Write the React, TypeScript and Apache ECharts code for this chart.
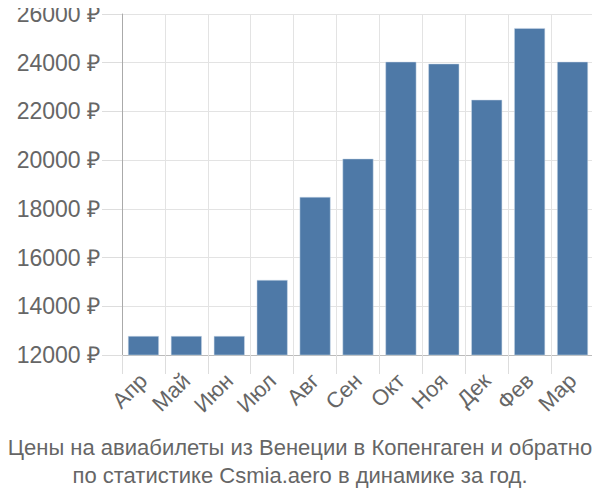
import React, { useEffect, useRef } from "react";
import * as echarts from "echarts";

const months = ["Апр", "Май", "Июн", "Июл", "Авг", "Сен", "Окт", "Ноя", "Дек", "Фев", "Мар"];
const prices = [12780, 12780, 12780, 15080, 18490, 20060, 24040, 23960, 22480, 25420, 24040];
const titleLines = [
  "Цены на авиабилеты из Венеции в Копенгаген и обратно",
  "по статистике Csmia.aero в динамике за год.",
];

export default function App() {
  const ref = useRef<HTMLDivElement>(null);
  useEffect(() => {
    if (!ref.current) return;
    const chart = echarts.init(ref.current, null, { renderer: "svg" });
    chart.setOption({
      animation: false,
      title: {
        text: titleLines.join("\n"),
        left: "center",
        top: 433,
        padding: 0,
        textStyle: {
          fontFamily: "Liberation Sans",
          fontSize: 22,
          fontWeight: "normal",
          color: "#666",
          lineHeight: 28,
        },
      },
      grid: { left: 122, right: 6, top: 14, bottom: 145 },
      xAxis: {
        type: "category",
        data: months,
        axisLine: { lineStyle: { color: "#bbb", width: 1 } },
        axisTick: { show: true, length: 19, lineStyle: { color: "#ddd" } },
        splitLine: { show: true, lineStyle: { color: "#e3e3e3", width: 1 } },
        axisLabel: {
          rotate: 45,
          margin: 22,
          fontFamily: "Liberation Sans",
          fontSize: 22,
          color: "#666",
        },
      },
      yAxis: {
        type: "value",
        min: 12000,
        max: 26000,
        interval: 2000,
        axisLine: { show: true, lineStyle: { color: "#aaa", width: 1 } },
        axisTick: { show: true, length: 20, lineStyle: { color: "#ddd" } },
        splitLine: { show: true, lineStyle: { color: "#e3e3e3", width: 1 } },
        axisLabel: {
          margin: 22,
          fontFamily: "Liberation Sans",
          fontSize: 23,
          color: "#666",
          formatter: (v: number) => v + " ₽",
        },
      },
      series: [
        {
          type: "bar",
          data: prices,
          barCategoryGap: "28%",
          itemStyle: { color: "#4e79a7", borderColor: "#cfdcea", borderWidth: 0.5 },
        },
      ],
    });
    return () => chart.dispose();
  }, []);
  return <div ref={ref} style={{ width: 600, height: 500, margin: -8 }} />;
}
